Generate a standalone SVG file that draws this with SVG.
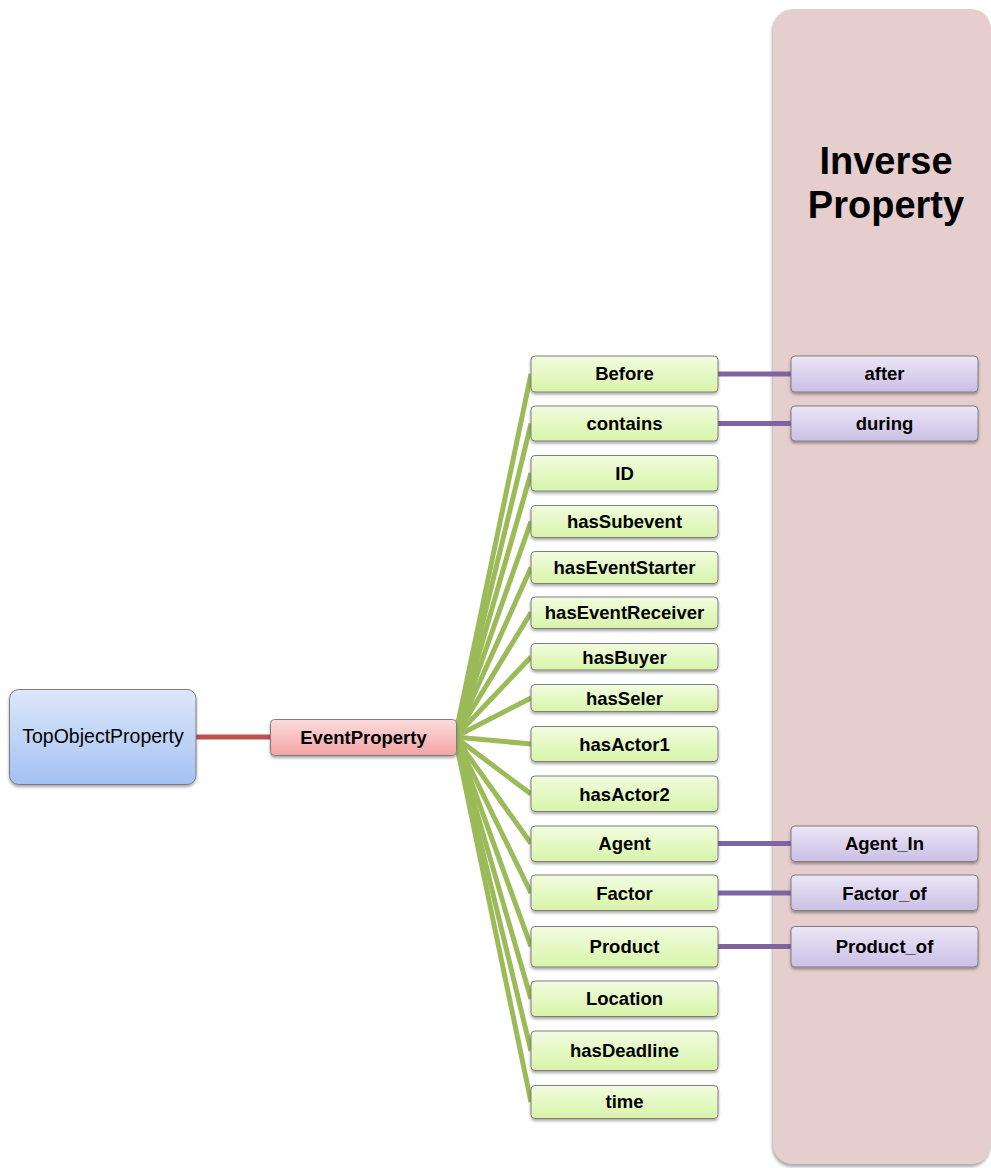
<svg xmlns="http://www.w3.org/2000/svg" width="991" height="1168" viewBox="0 0 991 1168">
  <defs>
    <linearGradient id="gBlue" x1="0" y1="0" x2="0" y2="1">
      <stop offset="0" stop-color="#DDE7FA"/>
      <stop offset="1" stop-color="#A3C1F3"/>
    </linearGradient>
    <linearGradient id="gRed" x1="0" y1="0" x2="0" y2="1">
      <stop offset="0" stop-color="#FBDCDC"/>
      <stop offset="1" stop-color="#F4A3A3"/>
    </linearGradient>
    <linearGradient id="gGreen" x1="0" y1="0" x2="0" y2="1">
      <stop offset="0" stop-color="#F2FCE0"/>
      <stop offset="1" stop-color="#D8F4A8"/>
    </linearGradient>
    <linearGradient id="gPurple" x1="0" y1="0" x2="0" y2="1">
      <stop offset="0" stop-color="#ECE6F6"/>
      <stop offset="1" stop-color="#CBBFE5"/>
    </linearGradient>
    <filter id="shadow" x="-10%" y="-20%" width="120%" height="160%">
      <feDropShadow dx="0" dy="2" stdDeviation="1.5" flood-color="#000" flood-opacity="0.35"/>
    </filter>
    <filter id="panelShadow" x="-10%" y="-5%" width="120%" height="110%">
      <feDropShadow dx="-1" dy="3" stdDeviation="1.5" flood-color="#777" flood-opacity="0.6"/>
    </filter>
  </defs>
  <style>
    .node rect { stroke: #7F7F7F; stroke-width: 1; filter: url(#shadow); }
    .green rect { fill: url(#gGreen); }
    .purple rect { fill: url(#gPurple); }
    .lbl { font-family: "Liberation Sans", Arial, sans-serif; font-size: 18.5px; font-weight: bold; fill: #000; text-anchor: middle; }
    .reg { font-family: "Liberation Sans", Arial, sans-serif; font-size: 19.5px; fill: #000; text-anchor: middle; }
    .title { font-family: "Liberation Sans", Arial, sans-serif; font-size: 38px; font-weight: bold; fill: #000; text-anchor: middle; }
    .cg line { stroke: #9BBB59; stroke-width: 5; }
    .cp line { stroke: #8064A2; stroke-width: 5; }
    .cr line { stroke: #C0504D; stroke-width: 5; }
  </style>

  <rect width="991" height="1168" fill="#FFFFFF"/>

  <!-- Inverse property panel -->
  <g id="panel">
    <rect x="773" y="9" width="218" height="1155" rx="20" ry="20" fill="#E6CECF" filter="url(#panelShadow)"/>
    <text class="title" x="886" y="174">Inverse</text>
    <text class="title" x="886" y="218">Property</text>
  </g>

  <!-- connectors -->
  <g id="connectors">
    <g class="cr">
      <line x1="196" y1="737" x2="271" y2="737"/>
    </g>
    <g class="cg">
      <line x1="455" y1="737" x2="531" y2="374"/>
      <line x1="455" y1="737" x2="531" y2="423.5"/>
      <line x1="455" y1="737" x2="531" y2="473"/>
      <line x1="455" y1="737" x2="531" y2="521.5"/>
      <line x1="455" y1="737" x2="531" y2="567.5"/>
      <line x1="455" y1="737" x2="531" y2="612.5"/>
      <line x1="455" y1="737" x2="531" y2="657"/>
      <line x1="455" y1="737" x2="531" y2="698"/>
      <line x1="455" y1="737" x2="531" y2="744"/>
      <line x1="455" y1="737" x2="531" y2="794"/>
      <line x1="455" y1="737" x2="531" y2="843.5"/>
      <line x1="455" y1="737" x2="531" y2="893"/>
      <line x1="455" y1="737" x2="531" y2="946.5"/>
      <line x1="455" y1="737" x2="531" y2="999"/>
      <line x1="455" y1="737" x2="531" y2="1051"/>
      <line x1="455" y1="737" x2="531" y2="1102"/>
    </g>
    <g class="cp">
      <line x1="718" y1="374" x2="791" y2="374"/>
      <line x1="718" y1="423.5" x2="791" y2="423.5"/>
      <line x1="718" y1="843.5" x2="791" y2="843.5"/>
      <line x1="718" y1="893" x2="791" y2="893"/>
      <line x1="718" y1="946.5" x2="791" y2="946.5"/>
    </g>
  </g>

  <!-- root nodes -->
  <g id="TopObjectProperty" class="node">
    <rect x="9.5" y="689.5" width="186.5" height="95" rx="9" fill="url(#gBlue)"/>
    <text class="reg" x="103" y="743">TopObjectProperty</text>
  </g>
  <g id="EventProperty" class="node">
    <rect x="270.5" y="719.5" width="186" height="36" rx="4" fill="url(#gRed)"/>
    <text class="lbl" x="363.5" y="744">EventProperty</text>
  </g>

  <!-- event sub-properties -->
  <g id="Before" class="node green"><rect x="531" y="356" width="187" height="36" rx="4"/><text class="lbl" x="624.5" y="380">Before</text></g>
  <g id="contains" class="node green"><rect x="531" y="406" width="187" height="35" rx="4"/><text class="lbl" x="624.5" y="429.5">contains</text></g>
  <g id="ID" class="node green"><rect x="531" y="455.5" width="187" height="35.5" rx="4"/><text class="lbl" x="624.5" y="479.5">ID</text></g>
  <g id="hasSubevent" class="node green"><rect x="531" y="505.5" width="187" height="32" rx="4"/><text class="lbl" x="624.5" y="528">hasSubevent</text></g>
  <g id="hasEventStarter" class="node green"><rect x="531" y="551.5" width="187" height="32" rx="4"/><text class="lbl" x="624.5" y="574">hasEventStarter</text></g>
  <g id="hasEventReceiver" class="node green"><rect x="531" y="597" width="187" height="31.5" rx="4"/><text class="lbl" x="624.5" y="619">hasEventReceiver</text></g>
  <g id="hasBuyer" class="node green"><rect x="531" y="643.5" width="187" height="26.5" rx="4"/><text class="lbl" x="624.5" y="663.5">hasBuyer</text></g>
  <g id="hasSeler" class="node green"><rect x="531" y="684.5" width="187" height="27" rx="4"/><text class="lbl" x="624.5" y="704.5">hasSeler</text></g>
  <g id="hasActor1" class="node green"><rect x="531" y="726.5" width="187" height="35" rx="4"/><text class="lbl" x="624.5" y="750.5">hasActor1</text></g>
  <g id="hasActor2" class="node green"><rect x="531" y="776" width="187" height="35.5" rx="4"/><text class="lbl" x="624.5" y="800.5">hasActor2</text></g>
  <g id="Agent" class="node green"><rect x="531" y="826" width="187" height="35.5" rx="4"/><text class="lbl" x="624.5" y="850">Agent</text></g>
  <g id="Factor" class="node green"><rect x="531" y="875" width="187" height="35.5" rx="4"/><text class="lbl" x="624.5" y="899.5">Factor</text></g>
  <g id="Product" class="node green"><rect x="531" y="926.5" width="187" height="40.5" rx="4"/><text class="lbl" x="624.5" y="953">Product</text></g>
  <g id="Location" class="node green"><rect x="531" y="981" width="187" height="35.5" rx="4"/><text class="lbl" x="624.5" y="1005">Location</text></g>
  <g id="hasDeadline" class="node green"><rect x="531" y="1031" width="187" height="39.5" rx="4"/><text class="lbl" x="624.5" y="1057">hasDeadline</text></g>
  <g id="time" class="node green"><rect x="531" y="1085.5" width="187" height="33" rx="4"/><text class="lbl" x="624.5" y="1108">time</text></g>

  <!-- inverse properties -->
  <g id="after" class="node purple"><rect x="791" y="356" width="187" height="36" rx="4"/><text class="lbl" x="884.5" y="380">after</text></g>
  <g id="during" class="node purple"><rect x="791" y="406" width="187" height="35" rx="4"/><text class="lbl" x="884.5" y="429.5">during</text></g>
  <g id="Agent_In" class="node purple"><rect x="791" y="826" width="187" height="35.5" rx="4"/><text class="lbl" x="884.5" y="850">Agent_In</text></g>
  <g id="Factor_of" class="node purple"><rect x="791" y="875" width="187" height="35.5" rx="4"/><text class="lbl" x="884.5" y="899.5">Factor_of</text></g>
  <g id="Product_of" class="node purple"><rect x="791" y="926.5" width="187" height="40.5" rx="4"/><text class="lbl" x="884.5" y="953">Product_of</text></g>
</svg>
